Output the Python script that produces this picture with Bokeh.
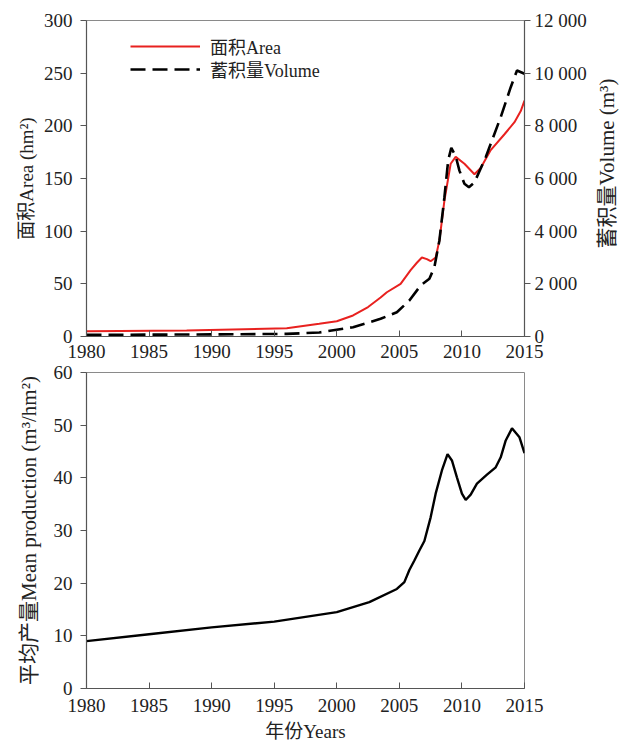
import math
from bokeh.plotting import figure
from bokeh.models import (LinearAxis, Range1d, FixedTicker, CustomJSTickFormatter,
                          Legend, LegendItem, Label)
from bokeh.layouts import column, row
from bokeh.embed import file_html
from bokeh.resources import INLINE

# ---------------- data ----------------
years_area = [1980, 1988, 1996, 1998.6, 2000, 2001.3, 2002.5, 2003.5, 2004, 2005.1,
              2005.9, 2006.4, 2006.8, 2007.2, 2007.5, 2007.9, 2008.2, 2008.6, 2009.1,
              2009.5, 2010.2, 2011.0, 2011.5, 2012.3, 2013.4, 2014.2, 2014.7, 2015]
area = [5.0, 5.7, 7.9, 12.0, 14.5, 20, 28, 37, 42, 50,
        63, 70, 75, 73.5, 71.5, 75, 91, 129, 164,
        170.5, 164, 154, 160, 177, 192, 203.5, 214, 224]

years_vol = [1980, 1990, 1996, 1998.6, 2001.3, 2003.5, 2004.8, 2005.8, 2006.7, 2007.4,
             2007.8, 2008.2, 2008.6, 2008.9, 2009.15, 2009.5, 2009.8, 2010.2, 2010.56,
             2011.0, 2011.9, 2013.1, 2013.9, 2014.4, 2015]
volume = [60, 80, 100, 152, 354, 672, 923, 1367, 1937, 2190,
          2633, 3646, 5290, 6684, 7166, 6850, 6300, 5800, 5670,
          5850, 6810, 8330, 9468, 10100, 9975]

years_mean = [1980, 1985, 1990, 1995, 2000, 2002.6, 2004.8, 2005.4, 2005.8, 2006.2,
              2006.6, 2007.0, 2007.5, 2007.9, 2008.4, 2008.85, 2009.2, 2009.6, 2010.0,
              2010.3, 2010.7, 2011.2, 2012.0, 2012.7, 2013.1, 2013.5, 2014.0, 2014.6, 2015]
mean_prod = [9.0, 10.3, 11.6, 12.7, 14.5, 16.4, 18.9, 20.2, 22.5, 24.3,
             26.2, 28.0, 32.5, 37.0, 41.4, 44.5, 43.3, 40.1, 37.0,
             35.8, 36.8, 38.9, 40.6, 42.0, 43.9, 47.1, 49.4, 47.7, 44.7]

x_ticks = [1980, 1985, 1990, 1995, 2000, 2005, 2010, 2015]
area_ticks = [0, 50, 100, 150, 200, 250, 300]
vol_ticks = [0, 2000, 4000, 6000, 8000, 10000, 12000]
mean_ticks = [0, 10, 20, 30, 40, 50, 60]

FONT = "'Liberation Serif', 'Noto Sans CJK SC', serif"
TXT = "#222222"
AX = "#555555"
OUT = "#8a8a8a"
FS = "19px"


def style_axis(ax, label, tick_in, tick_out):
    ax.axis_label = label
    ax.axis_label_text_font = FONT
    ax.axis_label_text_font_size = FS
    ax.axis_label_text_font_style = "normal"
    ax.axis_label_text_color = TXT
    ax.major_label_text_font = FONT
    ax.major_label_text_font_size = FS
    ax.major_label_text_color = TXT
    ax.axis_line_color = AX
    ax.axis_line_width = 1.2
    ax.major_tick_line_color = AX
    ax.major_tick_in = tick_in
    ax.major_tick_out = tick_out
    ax.minor_tick_line_color = None


# ---------------- top chart ----------------
p1 = figure(frame_width=438, frame_height=316,
            x_range=Range1d(1980, 2015), y_range=Range1d(0, 300),
            output_backend="svg", toolbar_location=None,
            min_border_left=86, min_border_right=63, min_border_top=20, min_border_bottom=26)
p1.xgrid.visible = False
p1.ygrid.visible = False
p1.outline_line_color = OUT
p1.background_fill_color = "white"
p1.border_fill_color = "white"

p1.extra_y_ranges = {"vol": Range1d(0, 12000)}

r_area = p1.line(years_area, area, line_color="#e8211f", line_width=2)
r_vol = p1.line(years_vol, volume, y_range_name="vol", line_color="black",
                line_width=2.6, line_dash="15 7")

p1.xaxis.ticker = FixedTicker(ticks=x_ticks)
style_axis(p1.xaxis[0], "", 6, 0)
p1.xaxis.major_label_standoff = 8
p1.yaxis.ticker = FixedTicker(ticks=area_ticks)
style_axis(p1.yaxis[0], "面积Area (hm²)", 0, 6)
p1.yaxis.major_label_standoff = 8
p1.yaxis.axis_label_standoff = 4

rax = LinearAxis(y_range_name="vol", ticker=FixedTicker(ticks=vol_ticks),
                 formatter=CustomJSTickFormatter(code="""
                 if (tick == 0) { return '0'; }
                 const th = Math.floor(tick / 1000);
                 const r = String(tick % 1000).padStart(3, '0');
                 return th + ' ' + r;
                 """))
style_axis(rax, "", 0, 6)
rax.major_label_standoff = 4
p1.add_layout(rax, "right")


def legend_row(label, renderer, y):
    return Legend(items=[LegendItem(label=label, renderers=[renderer])],
                  location=(44, y), padding=0, spacing=0, glyph_width=70,
                  glyph_height=20, label_height=20, label_standoff=10,
                  border_line_color=None, background_fill_alpha=0,
                  label_text_font=FONT, label_text_font_size="18px",
                  label_text_color=TXT)


p1.add_layout(legend_row("面积Area", r_area, 277))
p1.add_layout(legend_row("蓄积量Volume", r_vol, 254))

# narrow strip holding the right-axis title (reads bottom-to-top)
p_lab = figure(width=34, height=362, x_range=Range1d(0, 1), y_range=Range1d(0, 1),
               output_backend="svg", toolbar_location=None, min_border=0)
p_lab.axis.visible = False
p_lab.xgrid.visible = False
p_lab.ygrid.visible = False
p_lab.outline_line_color = None
p_lab.border_fill_color = "white"
p_lab.add_layout(Label(x=17, y=173, x_units="screen", y_units="screen",
                       text="蓄积量Volume (m³)", angle=math.pi / 2,
                       text_align="center", text_baseline="middle",
                       text_font=FONT, text_font_size="21px", text_color=TXT))

# ---------------- bottom chart ----------------
p2 = figure(frame_width=438, frame_height=316,
            x_range=Range1d(1980, 2015), y_range=Range1d(0, 60),
            output_backend="svg", toolbar_location=None,
            min_border_left=86, min_border_right=97, min_border_top=10, min_border_bottom=56)
p2.xgrid.visible = False
p2.ygrid.visible = False
p2.outline_line_color = OUT
p2.background_fill_color = "white"
p2.border_fill_color = "white"

p2.line(years_mean, mean_prod, line_color="black", line_width=2.4)

p2.xaxis.ticker = FixedTicker(ticks=x_ticks)
style_axis(p2.xaxis[0], "年份Years", 6, 0)
p2.xaxis.major_label_standoff = 10
p2.xaxis.axis_label_standoff = 6
p2.yaxis.ticker = FixedTicker(ticks=mean_ticks)
style_axis(p2.yaxis[0], "平均产量Mean production (m³/hm²)", 0, 6)
p2.yaxis.axis_label_text_font_size = "21px"
p2.yaxis.major_label_standoff = 8
p2.yaxis.axis_label_standoff = 10

layout = column(row(p1, p_lab, spacing=0), p2, spacing=0)
open("out.html", "w").write(file_html(layout, INLINE))
